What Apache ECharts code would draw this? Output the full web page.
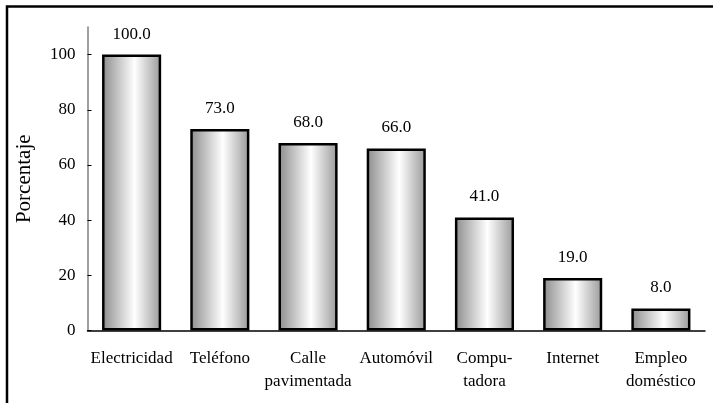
<!DOCTYPE html>
<html>
<head>
<meta charset="utf-8">
<script src="https://cdn.jsdelivr.net/npm/echarts@6/dist/echarts.min.js"></script>
<style>html,body{margin:0;padding:0;background:#fff}#c{width:713px;height:403px}</style>
</head>
<body>
<div id="c"></div>
<script>
const categories = ['Electricidad', 'Teléfono', 'Calle\npavimentada', 'Automóvil', 'Compu-\ntadora', 'Internet', 'Empleo\ndoméstico'];
const values = [100.0, 73.0, 68.0, 66.0, 41.0, 19.0, 8.0];
const yTicks = [0, 20, 40, 60, 80, 100];
const yName = 'Porcentaje';

const font = '"Liberation Serif", "Times New Roman", serif';
const chart = echarts.init(document.getElementById('c'));
chart.setOption({
  animation: false,
  backgroundColor: '#fff',
  graphic: [{
    type: 'rect', left: 4.5, top: 4, shape: {width: 800, height: 500},
    style: {fill: 'none', stroke: '#000', lineWidth: 2.5}, silent: true
  }],
  grid: {left: 87.5, right: 8, top: 27, bottom: 72.5, containLabel: false, outerBoundsMode: 'none'},
  xAxis: {
    type: 'category', data: categories,
    axisLine: {lineStyle: {color: '#000', width: 1.5}},
    axisTick: {inside: true, length: 4, lineStyle: {color: '#000', width: 1}},
    axisLabel: {color: '#000', fontFamily: font, fontSize: 17, lineHeight: 23, margin: 17, interval: 0}
  },
  yAxis: {
    type: 'value', min: 0, max: 110, interval: 20,
    name: yName, nameLocation: 'middle', nameGap: 53, nameRotate: 90,
    nameTextStyle: {color: '#000', fontFamily: font, fontSize: 21},
    axisLine: {show: true, lineStyle: {color: '#808080', width: 1.5}},
    axisTick: {show: true, inside: true, length: 4, lineStyle: {color: '#000'}, customValues: yTicks},
    axisLabel: {color: '#000', fontFamily: font, fontSize: 17, margin: 12, customValues: yTicks},
    splitLine: {show: false}
  },
  series: [{
    type: 'bar', data: values, barWidth: '67%',
    itemStyle: {
      borderColor: '#000', borderWidth: 2.5,
      color: new echarts.graphic.LinearGradient(0, 0, 1, 0, [
        {offset: 0, color: '#8c8c8c'},
        {offset: 0.55, color: '#ffffff'},
        {offset: 1, color: '#999999'}
      ])
    },
    label: {
      show: true, position: 'top', distance: 12, color: '#000',
      fontFamily: font, fontSize: 17,
      formatter: p => p.value.toFixed(1)
    }
  }]
});
</script>
</body>
</html>
